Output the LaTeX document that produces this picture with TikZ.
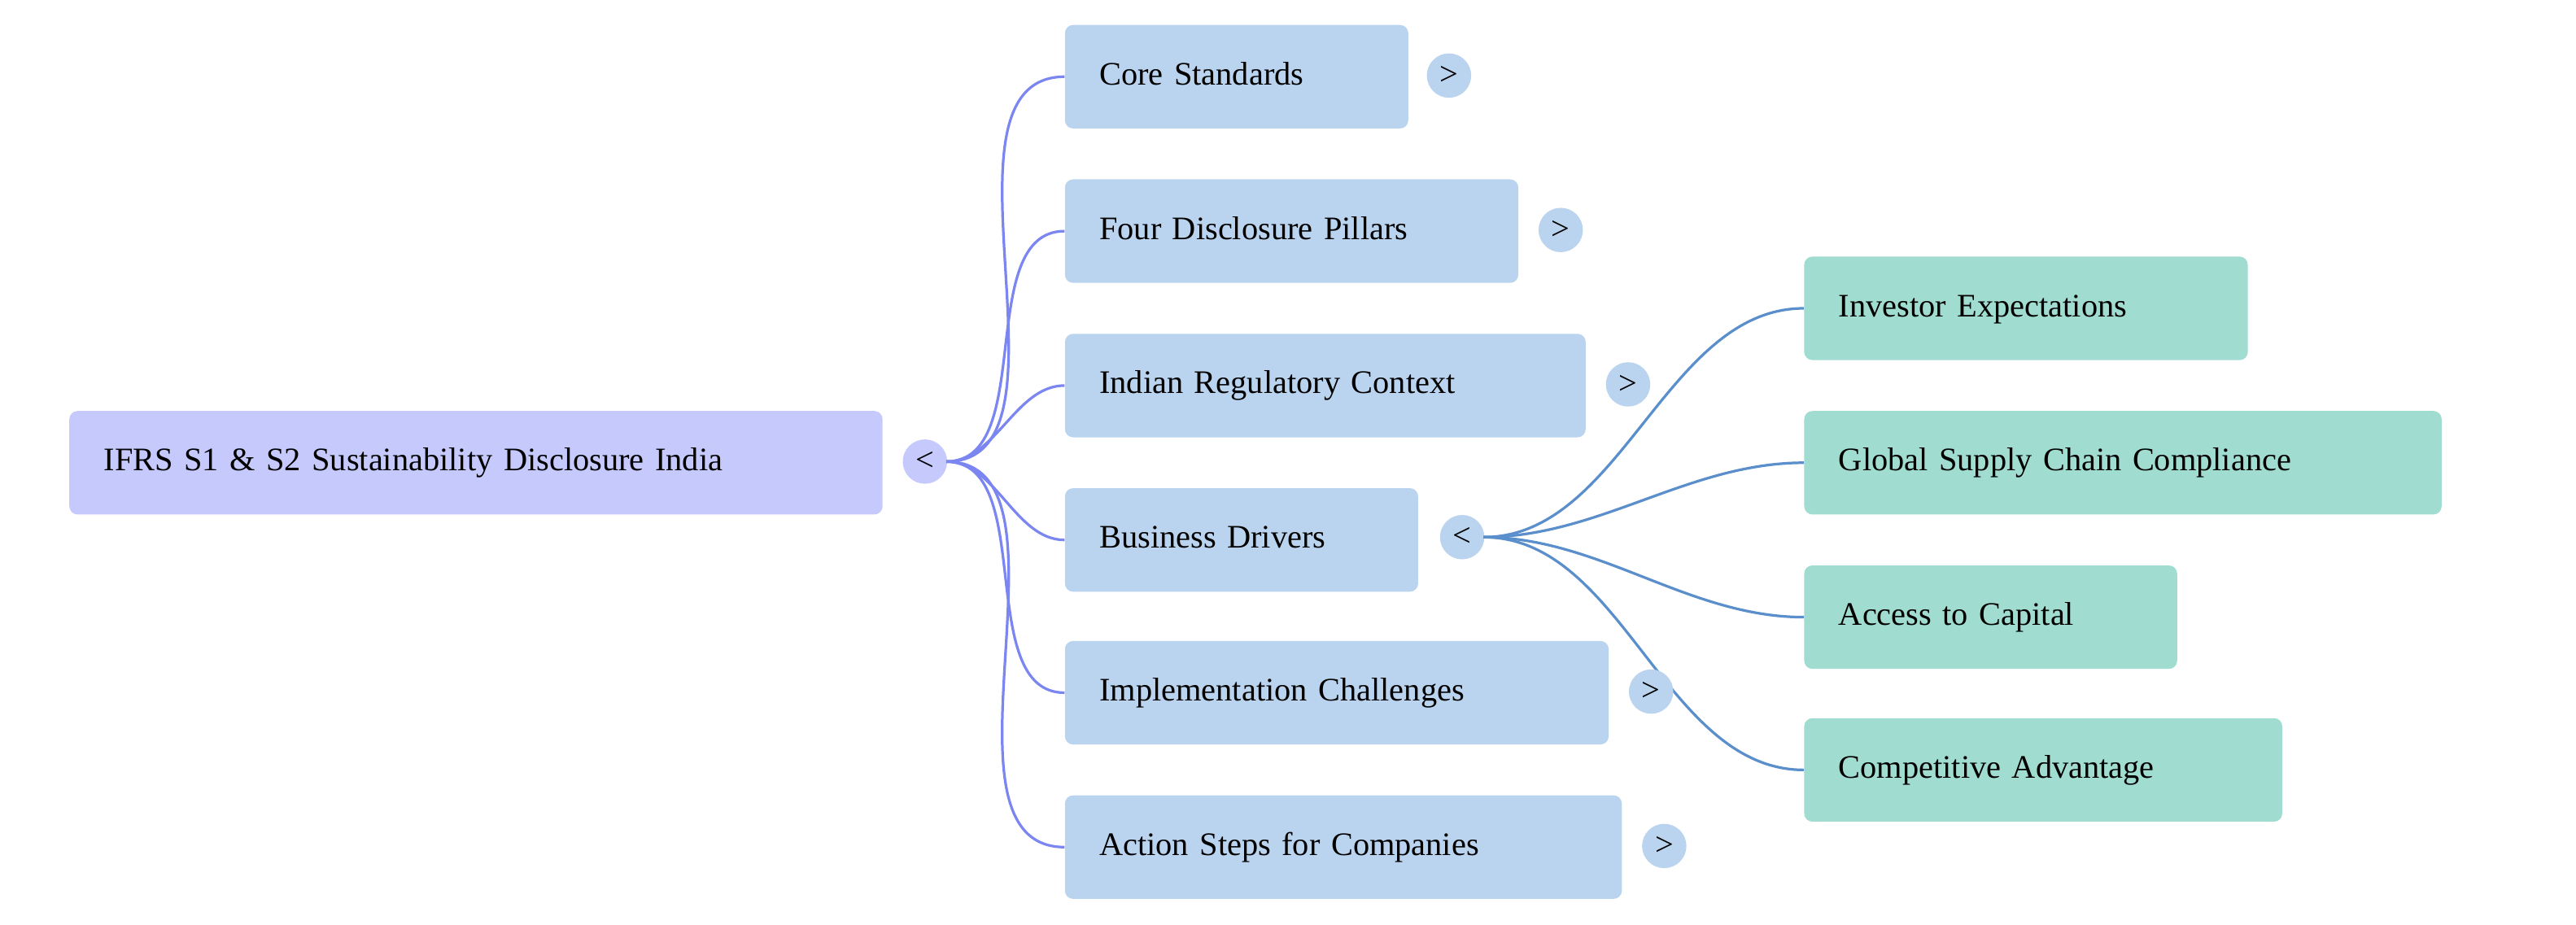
\documentclass[tikz,border=0pt]{standalone}
\usepackage{fontspec}
\setmainfont{Liberation Serif}
\definecolor{rootc}{HTML}{C5C9FC}
\definecolor{lone}{HTML}{BAD4EF}
\definecolor{ltwo}{HTML}{A0DCCF}
\definecolor{eone}{HTML}{7B86F0}
\definecolor{etwo}{HTML}{5B8FCC}
\begin{document}
\begin{tikzpicture}[x=1pt,y=-1pt,
 box/.style={rounded corners=5pt,minimum height=63pt,anchor=north west,inner xsep=21pt,align=left,font=\fontsize{20}{24}\selectfont,text height=14pt,text depth=4pt},
 tog/.style={circle,minimum size=27pt,inner sep=0pt,font=\fontsize{20}{24}\selectfont},
 e1/.style={draw=eone,line width=1.6pt},
 e2/.style={draw=etwo,line width=1.6pt},
 c/.style={out=0,in=180,looseness=0.9}]
\useasboundingbox (0,0) rectangle (1568,563);
\node[box,fill=rootc,text width=453pt] (root) at (42,250) {IFRS S1 \& S2 Sustainability Disclosure India};
\node[tog,fill=rootc] (rt) at (563,281) {<};
\node[box,fill=lone,text width=167pt] (a1) at (648,15) {Core Standards};
\node[box,fill=lone,text width=234pt] (a2) at (648,109) {Four Disclosure Pillars};
\node[box,fill=lone,text width=275pt] (a3) at (648,203) {Indian Regulatory Context};
\node[box,fill=lone,text width=173pt] (a4) at (648,297) {Business Drivers};
\node[box,fill=lone,text width=289pt] (a5) at (648,390) {Implementation Challenges};
\node[box,fill=lone,text width=297pt] (a6) at (648,484) {Action Steps for Companies};
\node[tog,fill=lone] (t1) at (882,46) {>};
\node[tog,fill=lone] (t2) at (950,140) {>};
\node[tog,fill=lone] (t3) at (991,234) {>};
\node[tog,fill=lone] (t4) at (890,327) {<};
\node[tog,fill=lone] (t6) at (1013,515) {>};
\node[box,fill=ltwo,text width=228pt] (b1) at (1098,156) {Investor Expectations};
\node[box,fill=ltwo,text width=346pt] (b2) at (1098,250) {Global Supply Chain Compliance};
\node[box,fill=ltwo,text width=185pt] (b3) at (1098,344) {Access to Capital};
\node[box,fill=ltwo,text width=249pt] (b4) at (1098,437) {Competitive Advantage};
\coordinate (rs) at (576,281);
\foreach \n in {a1,a2,a3,a4,a5,a6} \draw[e1] (rs) to[c] (\n.west);
\coordinate (bs) at (903,327);
\foreach \n in {b1,b2,b3,b4} \draw[e2] (bs) to[c] (\n.west);
\node[tog,fill=lone] (t5) at (1005,421) {>};
\end{tikzpicture}
\end{document}
